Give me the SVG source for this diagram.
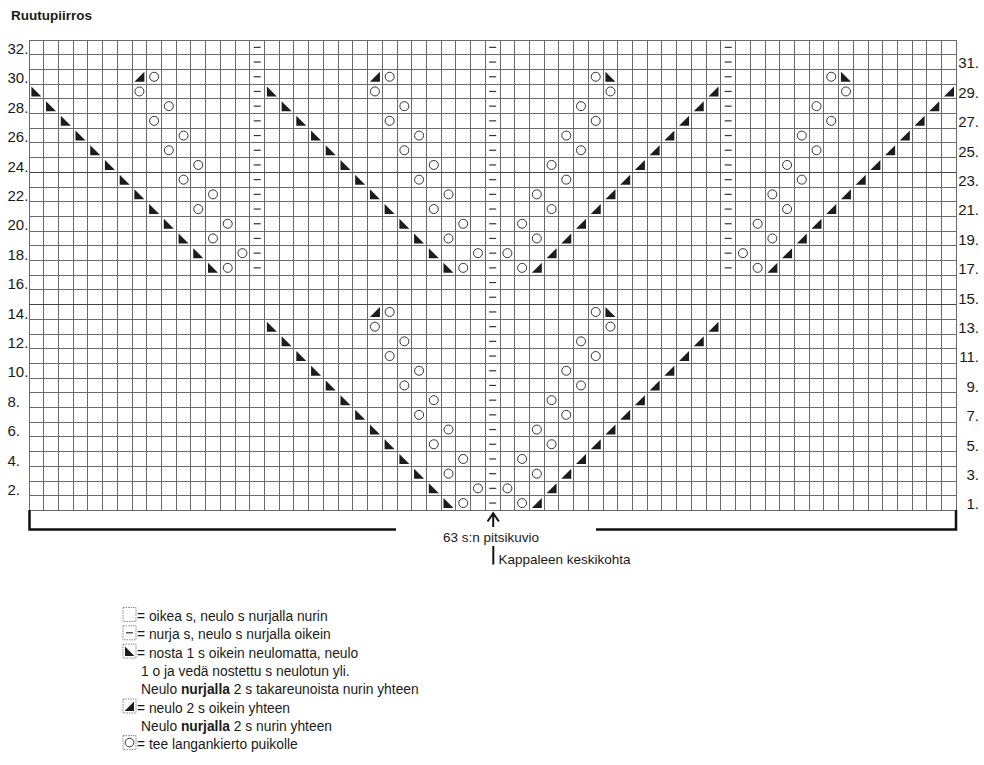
<svg xmlns="http://www.w3.org/2000/svg" xmlns:xlink="http://www.w3.org/1999/xlink" width="984" height="765" viewBox="0 0 984 765">
<style>
text{font-family:"Liberation Sans",Arial,sans-serif;fill:#1a1a1a}
.grid{fill:none;stroke:#6a6a6a;stroke-width:1}
.gridb{fill:none;stroke:#444;stroke-width:1.6}
.lbl{font-size:15px}
.leg{font-size:13.8px}
.mn{stroke:#333;stroke-width:1.2;fill:none}
.tri{fill:#1c1c1c}
.yo{fill:#fff;stroke:#333;stroke-width:1}
.box{fill:#fff;stroke:#888;stroke-width:1;stroke-dasharray:1.5 1}
</style>
<defs>
<path id="m" class="mn" d="M-3.5,0h7"/>
<path id="L" class="tri" d="M-5,-5V5H5Z"/>
<path id="R" class="tri" d="M5,-5V5H-5Z"/>
<circle id="o" class="yo" r="4.5"/>
</defs>
<rect width="984" height="765" fill="#fff"/>
<text x="11" y="19.5" style="font-size:13.5px;font-weight:bold">Ruutupiirros</text>

<g id="grid" shape-rendering="crispEdges">
<path class="grid" d="M29,40V510.4M43.72,40V510.4M58.44,40V510.4M73.16,40V510.4M87.88,40V510.4M102.6,40V510.4M117.32,40V510.4M132.04,40V510.4M146.76,40V510.4M161.48,40V510.4M176.2,40V510.4M190.92,40V510.4M205.64,40V510.4M220.36,40V510.4M235.08,40V510.4M249.8,40V510.4M264.52,40V510.4M279.24,40V510.4M293.96,40V510.4M308.68,40V510.4M323.4,40V510.4M338.12,40V510.4M352.84,40V510.4M367.56,40V510.4M382.28,40V510.4M397,40V510.4M411.72,40V510.4M426.44,40V510.4M441.16,40V510.4M455.88,40V510.4M470.6,40V510.4M485.32,40V510.4M500.04,40V510.4M514.76,40V510.4M529.48,40V510.4M544.2,40V510.4M558.92,40V510.4M573.64,40V510.4M588.36,40V510.4M603.08,40V510.4M617.8,40V510.4M632.52,40V510.4M647.24,40V510.4M661.96,40V510.4M676.68,40V510.4M691.4,40V510.4M706.12,40V510.4M720.84,40V510.4M735.56,40V510.4M750.28,40V510.4M765,40V510.4M779.72,40V510.4M794.44,40V510.4M809.16,40V510.4M823.88,40V510.4M838.6,40V510.4M853.32,40V510.4M868.04,40V510.4M882.76,40V510.4M897.48,40V510.4M912.2,40V510.4M926.92,40V510.4M941.64,40V510.4M956.36,40V510.4"/>
<path class="grid" d="M29,40H956.36M29,54.7H956.36M29,69.4H956.36M29,84.1H956.36M29,98.8H956.36M29,113.5H956.36M29,128.2H956.36M29,142.9H956.36M29,157.6H956.36M29,187H956.36M29,201.7H956.36M29,216.4H956.36M29,231.1H956.36M29,245.8H956.36M29,260.5H956.36M29,275.2H956.36M29,289.9H956.36M29,319.3H956.36M29,334H956.36M29,348.7H956.36M29,363.4H956.36M29,378.1H956.36M29,392.8H956.36M29,407.5H956.36M29,422.2H956.36M29,436.9H956.36M29,451.6H956.36M29,466.3H956.36M29,481H956.36M29,495.7H956.36M29,510.4H956.36"/>
<path class="gridb" d="M29,172.3H956.36M29,304.6H956.36"/>
</g>

<g id="row-labels" class="lbl">
<text x="7.5" y="54">32.</text><text x="7.5" y="83.4">30.</text><text x="7.5" y="112.8">28.</text><text x="7.5" y="142.2">26.</text><text x="7.5" y="171.6">24.</text><text x="7.5" y="201">22.</text><text x="7.5" y="230.4">20.</text><text x="7.5" y="259.8">18.</text><text x="7.5" y="289.2">16.</text><text x="7.5" y="318.6">14.</text><text x="7.5" y="348">12.</text><text x="7.5" y="377.4">10.</text><text x="7.5" y="406.8">8.</text><text x="7.5" y="436.2">6.</text><text x="7.5" y="465.6">4.</text><text x="7.5" y="495">2.</text>
<g text-anchor="end">
<text x="979" y="68.4">31.</text><text x="979" y="97.8">29.</text><text x="979" y="127.2">27.</text><text x="979" y="156.6">25.</text><text x="979" y="186">23.</text><text x="979" y="215.4">21.</text><text x="979" y="244.8">19.</text><text x="979" y="274.2">17.</text><text x="979" y="303.6">15.</text><text x="979" y="333">13.</text><text x="979" y="362.4">11.</text><text x="979" y="391.8">9.</text><text x="979" y="421.2">7.</text><text x="979" y="450.6">5.</text><text x="979" y="480">3.</text><text x="979" y="509.4">1.</text>
</g>
</g>

<g id="purl">
<use href="#m" x="492.68" y="47.35"/><use href="#m" x="492.68" y="62.05"/><use href="#m" x="492.68" y="76.75"/><use href="#m" x="492.68" y="91.45"/><use href="#m" x="492.68" y="106.15"/><use href="#m" x="492.68" y="120.85"/><use href="#m" x="492.68" y="135.55"/><use href="#m" x="492.68" y="150.25"/><use href="#m" x="492.68" y="164.95"/><use href="#m" x="492.68" y="179.65"/><use href="#m" x="492.68" y="194.35"/><use href="#m" x="492.68" y="209.05"/><use href="#m" x="492.68" y="223.75"/><use href="#m" x="492.68" y="238.45"/><use href="#m" x="492.68" y="253.15"/><use href="#m" x="492.68" y="267.85"/><use href="#m" x="492.68" y="282.55"/><use href="#m" x="492.68" y="297.25"/><use href="#m" x="492.68" y="311.95"/><use href="#m" x="492.68" y="326.65"/><use href="#m" x="492.68" y="341.35"/><use href="#m" x="492.68" y="356.05"/><use href="#m" x="492.68" y="370.75"/><use href="#m" x="492.68" y="385.45"/><use href="#m" x="492.68" y="400.15"/><use href="#m" x="492.68" y="414.85"/><use href="#m" x="492.68" y="429.55"/><use href="#m" x="492.68" y="444.25"/><use href="#m" x="492.68" y="458.95"/><use href="#m" x="492.68" y="473.65"/><use href="#m" x="492.68" y="488.35"/><use href="#m" x="492.68" y="503.05"/>
<use href="#m" x="257.16" y="47.35"/><use href="#m" x="257.16" y="62.05"/><use href="#m" x="257.16" y="76.75"/><use href="#m" x="257.16" y="91.45"/><use href="#m" x="257.16" y="106.15"/><use href="#m" x="257.16" y="120.85"/><use href="#m" x="257.16" y="135.55"/><use href="#m" x="257.16" y="150.25"/><use href="#m" x="257.16" y="164.95"/><use href="#m" x="257.16" y="179.65"/><use href="#m" x="257.16" y="194.35"/><use href="#m" x="257.16" y="209.05"/><use href="#m" x="257.16" y="223.75"/><use href="#m" x="257.16" y="238.45"/><use href="#m" x="257.16" y="253.15"/><use href="#m" x="257.16" y="267.85"/>
<use href="#m" x="728.2" y="47.35"/><use href="#m" x="728.2" y="62.05"/><use href="#m" x="728.2" y="76.75"/><use href="#m" x="728.2" y="91.45"/><use href="#m" x="728.2" y="106.15"/><use href="#m" x="728.2" y="120.85"/><use href="#m" x="728.2" y="135.55"/><use href="#m" x="728.2" y="150.25"/><use href="#m" x="728.2" y="164.95"/><use href="#m" x="728.2" y="179.65"/><use href="#m" x="728.2" y="194.35"/><use href="#m" x="728.2" y="209.05"/><use href="#m" x="728.2" y="223.75"/><use href="#m" x="728.2" y="238.45"/><use href="#m" x="728.2" y="253.15"/><use href="#m" x="728.2" y="267.85"/>
</g>

<g id="panel1">
<use href="#R" x="139.4" y="76.75"/>
<use href="#L" x="36.36" y="91.45"/><use href="#L" x="51.08" y="106.15"/><use href="#L" x="65.8" y="120.85"/><use href="#L" x="80.52" y="135.55"/><use href="#L" x="95.24" y="150.25"/><use href="#L" x="109.96" y="164.95"/><use href="#L" x="124.68" y="179.65"/><use href="#L" x="139.4" y="194.35"/><use href="#L" x="154.12" y="209.05"/><use href="#L" x="168.84" y="223.75"/><use href="#L" x="183.56" y="238.45"/><use href="#L" x="198.28" y="253.15"/><use href="#L" x="213" y="267.85"/>
<use href="#o" x="154.12" y="76.75"/><use href="#o" x="139.4" y="91.45"/><use href="#o" x="168.84" y="106.15"/><use href="#o" x="154.12" y="120.85"/><use href="#o" x="183.56" y="135.55"/><use href="#o" x="168.84" y="150.25"/><use href="#o" x="198.28" y="164.95"/><use href="#o" x="183.56" y="179.65"/><use href="#o" x="213" y="194.35"/><use href="#o" x="198.28" y="209.05"/><use href="#o" x="227.72" y="223.75"/><use href="#o" x="213" y="238.45"/><use href="#o" x="242.44" y="253.15"/><use href="#o" x="227.72" y="267.85"/>
</g>

<g id="panel2">
<use href="#R" x="374.92" y="76.75"/>
<use href="#L" x="271.88" y="91.45"/><use href="#L" x="286.6" y="106.15"/><use href="#L" x="301.32" y="120.85"/><use href="#L" x="316.04" y="135.55"/><use href="#L" x="330.76" y="150.25"/><use href="#L" x="345.48" y="164.95"/><use href="#L" x="360.2" y="179.65"/><use href="#L" x="374.92" y="194.35"/><use href="#L" x="389.64" y="209.05"/><use href="#L" x="404.36" y="223.75"/><use href="#L" x="419.08" y="238.45"/><use href="#L" x="433.8" y="253.15"/><use href="#L" x="448.52" y="267.85"/>
<use href="#o" x="389.64" y="76.75"/><use href="#o" x="374.92" y="91.45"/><use href="#o" x="404.36" y="106.15"/><use href="#o" x="389.64" y="120.85"/><use href="#o" x="419.08" y="135.55"/><use href="#o" x="404.36" y="150.25"/><use href="#o" x="433.8" y="164.95"/><use href="#o" x="419.08" y="179.65"/><use href="#o" x="448.52" y="194.35"/><use href="#o" x="433.8" y="209.05"/><use href="#o" x="463.24" y="223.75"/><use href="#o" x="448.52" y="238.45"/><use href="#o" x="477.96" y="253.15"/><use href="#o" x="463.24" y="267.85"/>
</g>

<g id="panel3">
<use href="#L" x="610.44" y="76.75"/>
<use href="#R" x="713.48" y="91.45"/><use href="#R" x="698.76" y="106.15"/><use href="#R" x="684.04" y="120.85"/><use href="#R" x="669.32" y="135.55"/><use href="#R" x="654.6" y="150.25"/><use href="#R" x="639.88" y="164.95"/><use href="#R" x="625.16" y="179.65"/><use href="#R" x="610.44" y="194.35"/><use href="#R" x="595.72" y="209.05"/><use href="#R" x="581" y="223.75"/><use href="#R" x="566.28" y="238.45"/><use href="#R" x="551.56" y="253.15"/><use href="#R" x="536.84" y="267.85"/>
<use href="#o" x="595.72" y="76.75"/><use href="#o" x="610.44" y="91.45"/><use href="#o" x="581" y="106.15"/><use href="#o" x="595.72" y="120.85"/><use href="#o" x="566.28" y="135.55"/><use href="#o" x="581" y="150.25"/><use href="#o" x="551.56" y="164.95"/><use href="#o" x="566.28" y="179.65"/><use href="#o" x="536.84" y="194.35"/><use href="#o" x="551.56" y="209.05"/><use href="#o" x="522.12" y="223.75"/><use href="#o" x="536.84" y="238.45"/><use href="#o" x="507.4" y="253.15"/><use href="#o" x="522.12" y="267.85"/>
</g>

<g id="panel4">
<use href="#L" x="845.96" y="76.75"/>
<use href="#R" x="949" y="91.45"/><use href="#R" x="934.28" y="106.15"/><use href="#R" x="919.56" y="120.85"/><use href="#R" x="904.84" y="135.55"/><use href="#R" x="890.12" y="150.25"/><use href="#R" x="875.4" y="164.95"/><use href="#R" x="860.68" y="179.65"/><use href="#R" x="845.96" y="194.35"/><use href="#R" x="831.24" y="209.05"/><use href="#R" x="816.52" y="223.75"/><use href="#R" x="801.8" y="238.45"/><use href="#R" x="787.08" y="253.15"/><use href="#R" x="772.36" y="267.85"/>
<use href="#o" x="831.24" y="76.75"/><use href="#o" x="845.96" y="91.45"/><use href="#o" x="816.52" y="106.15"/><use href="#o" x="831.24" y="120.85"/><use href="#o" x="801.8" y="135.55"/><use href="#o" x="816.52" y="150.25"/><use href="#o" x="787.08" y="164.95"/><use href="#o" x="801.8" y="179.65"/><use href="#o" x="772.36" y="194.35"/><use href="#o" x="787.08" y="209.05"/><use href="#o" x="757.64" y="223.75"/><use href="#o" x="772.36" y="238.45"/><use href="#o" x="742.92" y="253.15"/><use href="#o" x="757.64" y="267.85"/>
</g>

<g id="lower-left">
<use href="#R" x="374.92" y="311.95"/>
<use href="#L" x="271.88" y="326.65"/><use href="#L" x="286.6" y="341.35"/><use href="#L" x="301.32" y="356.05"/><use href="#L" x="316.04" y="370.75"/><use href="#L" x="330.76" y="385.45"/><use href="#L" x="345.48" y="400.15"/><use href="#L" x="360.2" y="414.85"/><use href="#L" x="374.92" y="429.55"/><use href="#L" x="389.64" y="444.25"/><use href="#L" x="404.36" y="458.95"/><use href="#L" x="419.08" y="473.65"/><use href="#L" x="433.8" y="488.35"/><use href="#L" x="448.52" y="503.05"/>
<use href="#o" x="389.64" y="311.95"/><use href="#o" x="374.92" y="326.65"/><use href="#o" x="404.36" y="341.35"/><use href="#o" x="389.64" y="356.05"/><use href="#o" x="419.08" y="370.75"/><use href="#o" x="404.36" y="385.45"/><use href="#o" x="433.8" y="400.15"/><use href="#o" x="419.08" y="414.85"/><use href="#o" x="448.52" y="429.55"/><use href="#o" x="433.8" y="444.25"/><use href="#o" x="463.24" y="458.95"/><use href="#o" x="448.52" y="473.65"/><use href="#o" x="477.96" y="488.35"/><use href="#o" x="463.24" y="503.05"/>
</g>

<g id="lower-right">
<use href="#L" x="610.44" y="311.95"/>
<use href="#R" x="713.48" y="326.65"/><use href="#R" x="698.76" y="341.35"/><use href="#R" x="684.04" y="356.05"/><use href="#R" x="669.32" y="370.75"/><use href="#R" x="654.6" y="385.45"/><use href="#R" x="639.88" y="400.15"/><use href="#R" x="625.16" y="414.85"/><use href="#R" x="610.44" y="429.55"/><use href="#R" x="595.72" y="444.25"/><use href="#R" x="581" y="458.95"/><use href="#R" x="566.28" y="473.65"/><use href="#R" x="551.56" y="488.35"/><use href="#R" x="536.84" y="503.05"/>
<use href="#o" x="595.72" y="311.95"/><use href="#o" x="610.44" y="326.65"/><use href="#o" x="581" y="341.35"/><use href="#o" x="595.72" y="356.05"/><use href="#o" x="566.28" y="370.75"/><use href="#o" x="581" y="385.45"/><use href="#o" x="551.56" y="400.15"/><use href="#o" x="566.28" y="414.85"/><use href="#o" x="536.84" y="429.55"/><use href="#o" x="551.56" y="444.25"/><use href="#o" x="522.12" y="458.95"/><use href="#o" x="536.84" y="473.65"/><use href="#o" x="507.4" y="488.35"/><use href="#o" x="522.12" y="503.05"/>
</g>

<g id="bracket" fill="none" stroke="#111" stroke-width="2.5">
<path d="M29.5,510V529.5H396"/>
<path d="M596,529.5H956V510"/>
<path d="M487.5,521.5L493.2,513.2L498.9,521.5M493.2,513.5V527" stroke-width="2"/>
<path d="M493.3,546V564.5" stroke-width="2"/>
</g>
<text x="491" y="542" text-anchor="middle" style="font-size:13.5px">63 s:n pitsikuvio</text>
<text x="498.5" y="563.5" style="font-size:13.5px">Kappaleen keskikohta</text>

<g id="legend" class="leg">
<rect class="box" x="123" y="607.5" width="13" height="14"/>
<text x="137" y="621">= oikea s, neulo s nurjalla nurin</text>
<rect class="box" x="123" y="625.8" width="13" height="14"/>
<use href="#m" x="129.5" y="632.8"/>
<text x="137" y="639.3">= nurja s, neulo s nurjalla oikein</text>
<rect class="box" x="123" y="644.1" width="13" height="14"/>
<path class="tri" d="M125,646.6V656H134.4Z"/>
<text x="137" y="657.6">= nosta 1 s oikein neulomatta, neulo</text>
<text x="141" y="675.9">1 o ja vedä nostettu s neulotun yli.</text>
<text x="141" y="694.2">Neulo <tspan font-weight="bold">nurjalla</tspan> 2 s takareunoista nurin yhteen</text>
<rect class="box" x="123" y="699" width="13" height="14"/>
<path class="tri" d="M134,701.5V710.9H124.6Z"/>
<text x="137" y="712.5">= neulo 2 s oikein yhteen</text>
<text x="141" y="730.8">Neulo <tspan font-weight="bold">nurjalla</tspan> 2 s nurin yhteen</text>
<rect class="box" x="123" y="735.6" width="13" height="14"/>
<circle class="yo" cx="129.5" cy="742.6" r="4.3"/>
<text x="137" y="749.1">= tee langankierto puikolle</text>
</g>
</svg>
